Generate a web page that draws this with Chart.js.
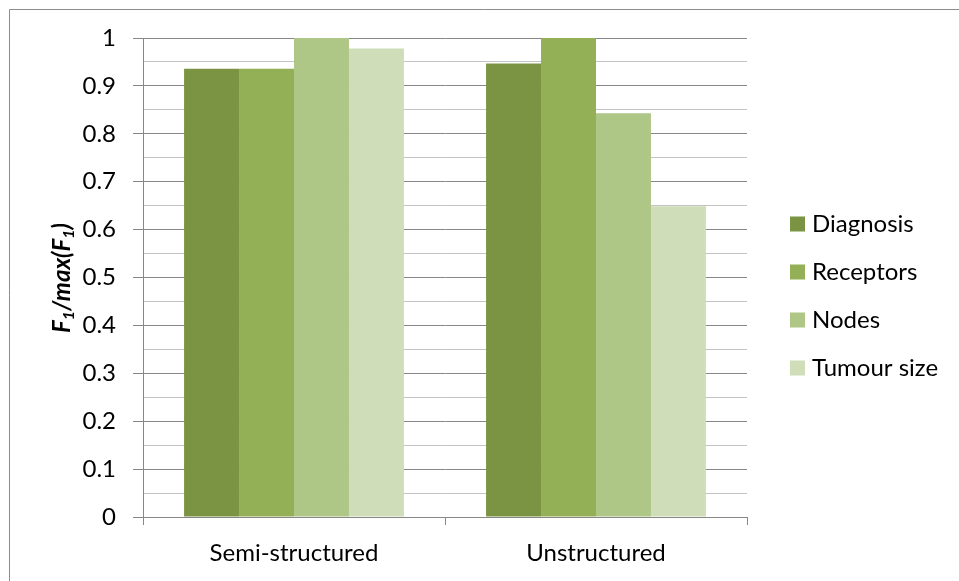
<!DOCTYPE html>
<html>
<head>
<meta charset="utf-8">
<script src="https://cdn.jsdelivr.net/npm/chart.js@4.4.1/dist/chart.umd.min.js"></script>
<style>
  html, body { margin: 0; padding: 0; background: #fff; }
  #wrap { position: relative; width: 959px; height: 581px; }
</style>
</head>
<body>
<div id="wrap"><canvas id="f1chart"></canvas></div>
<script>
var categories = ['Semi-structured', 'Unstructured'];
var seriesNames = ['Diagnosis', 'Receptors', 'Nodes', 'Tumour size'];
var diagnosis = [0.936, 0.947];
var receptors = [0.936, 1.0];
var nodes = [1.0, 0.843];
var tumourSize = [0.978, 0.649];
var colors = ['#7a9444', '#93b057', '#aec686', '#cfddb8'];

var FONT = 'Lato, "Open Sans", sans-serif';
var axisGray = '#878787';
var minorGray = '#c3c3c3';

// outer chart frame (only top and left edge show in the window)
var framePlugin = {
  id: 'frame',
  beforeDraw: function(chart) {
    var c = chart.ctx;
    c.save();
    c.strokeStyle = '#8c8c8c';
    c.lineWidth = 1;
    c.beginPath();
    c.moveTo(9.5, chart.height);
    c.lineTo(9.5, 9.5);
    c.lineTo(chart.width, 9.5);
    c.stroke();
    c.restore();
  }
};

// y axis title with subscripts: F1/max(F1)
var yTitlePlugin = {
  id: 'yTitle',
  afterDraw: function(chart) {
    var c = chart.ctx;
    var parts = [['F', false], ['1', true], ['/max(F', false], ['1', true], [')', false]];
    var big = 'italic bold 24px ' + FONT;
    var small = 'italic bold 16px ' + FONT;
    var total = 0;
    parts.forEach(function(p) {
      c.font = p[1] ? small : big;
      total += c.measureText(p[0]).width;
    });
    c.save();
    c.translate(62, 278);
    c.rotate(-Math.PI / 2);
    c.fillStyle = '#000';
    c.textBaseline = 'alphabetic';
    var x = -total / 2;
    parts.forEach(function(p) {
      c.font = p[1] ? small : big;
      c.fillText(p[0], x, p[1] ? 12 : 8);
      x += c.measureText(p[0]).width;
    });
    c.restore();
  }
};

// legend at right, squares + names
var legendPlugin = {
  id: 'sideLegend',
  afterDraw: function(chart) {
    var c = chart.ctx;
    c.save();
    c.font = '24px ' + FONT;
    c.textBaseline = 'middle';
    chart.data.datasets.forEach(function(ds, i) {
      var y = 224 + i * 48;
      c.fillStyle = ds.backgroundColor;
      c.fillRect(790, y - 7.5, 15, 15);
      c.fillStyle = '#000';
      c.fillText(ds.label, 812, y);
    });
    c.restore();
  }
};

var seriesData = [diagnosis, receptors, nodes, tumourSize];
var datasets = seriesNames.map(function(name, i) {
  return {
    label: name,
    data: seriesData[i],
    backgroundColor: colors[i],
    borderWidth: 0,
    categoryPercentage: 0.728,
    barPercentage: 1.0
  };
});

var ctx = document.getElementById('f1chart');
new Chart(ctx, {
  type: 'bar',
  data: { labels: categories, datasets: datasets },
  plugins: [framePlugin, yTitlePlugin, legendPlugin],
  options: {
    responsive: true,
    maintainAspectRatio: false,
    animation: false,
    layout: { padding: { top: 38, right: 212, bottom: 0, left: 0 } },
    plugins: {
      legend: { display: false },
      tooltip: { enabled: false }
    },
    scales: {
      x: {
        grid: {
          offset: true,
          drawOnChartArea: false,
          color: axisGray,
          tickLength: 8
        },
        border: { color: axisGray },
        ticks: {
          color: '#000',
          font: { family: FONT, size: 24 },
          padding: 14
        },
        afterFit: function(scale) { scale.height = 64; }
      },
      y: {
        min: 0,
        max: 1,
        ticks: {
          stepSize: 0.05,
          autoSkip: false,
          color: '#000',
          font: { family: FONT, size: 24 },
          padding: 17,
          callback: function(v, idx) {
            if (idx % 2) return '';
            return String(Math.round(v * 10) / 10);
          }
        },
        grid: {
          color: function(c) { return c.index % 2 ? minorGray : axisGray; },
          tickColor: function(c) { return c.index % 2 ? 'rgba(0,0,0,0)' : axisGray; },
          tickLength: 10
        },
        border: { color: axisGray },
        afterFit: function(scale) { scale.width = 143; }
      }
    }
  }
});
</script>
</body>
</html>
